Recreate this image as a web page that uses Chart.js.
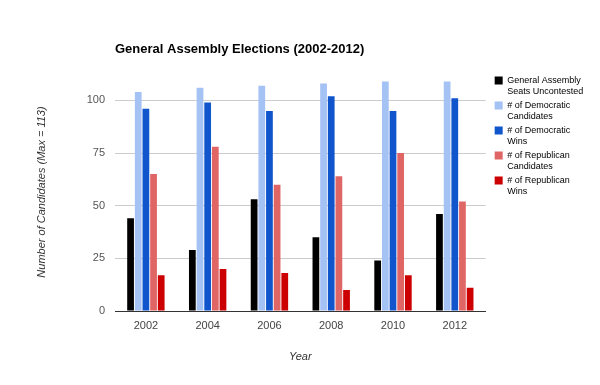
<!DOCTYPE html>
<html>
<head>
<meta charset="utf-8">
<script src="https://cdn.jsdelivr.net/npm/chart.js@4/dist/chart.umd.min.js"></script>
<style>
  html,body{margin:0;padding:0;background:#fff;}
  #wrap{width:600px;height:385px;}
</style>
</head>
<body>
<div id="wrap"><canvas id="chart" width="600" height="385"></canvas></div>
<script>
const years = ["2002","2004","2006","2008","2010","2012"];
const seatsUncontested = [44, 29, 53, 35, 24, 46];
const demCandidates = [104, 106, 107, 108, 109, 109];
const demWins = [96, 99, 95, 102, 95, 101];
const repCandidates = [65, 78, 60, 64, 75, 52];
const repWins = [17, 20, 18, 10, 17, 11];
const yTicks = [0, 25, 50, 75, 100];

const chartTitle = "General Assembly Elections (2002-2012)";

// title sits over the plot's left edge, not centered on the canvas
const leftTitle = {
  id: "leftTitle",
  afterDraw(chart){
    const ctx = chart.ctx;
    ctx.save();
    ctx.font = "bold 13px Arial, 'Liberation Sans', sans-serif";
    ctx.fillStyle = "#000";
    ctx.textBaseline = "middle";
    ctx.fillText(chartTitle, chart.chartArea.left, 49);
    ctx.restore();
  }
};

const ds = (label, data, color) => ({
  label, data, backgroundColor: color, borderWidth: 0,
  barPercentage: 0.88, categoryPercentage: 0.62
});

new Chart(document.getElementById("chart").getContext("2d"), {
  type: "bar",
  data: {
    labels: years,
    datasets: [
      ds("General Assembly\nSeats Uncontested", seatsUncontested, "#000000"),
      ds("# of Democratic\nCandidates", demCandidates, "#a4c2f4"),
      ds("# of Democratic\nWins", demWins, "#1155cc"),
      ds("# of Republican\nCandidates", repCandidates, "#e06666"),
      ds("# of Republican\nWins", repWins, "#cc0000")
    ]
  },
  options: {
    responsive: false,
    animation: false,
    layout: { padding: { top: 73, left: 10, right: 12, bottom: 8 } },
    scales: {
      x: {
        grid: { display: false, drawTicks: false, tickLength: 0 },
        border: { display: true, color: "#333" },
        ticks: { color: "#444", font: { size: 11, family: "Arial" }, padding: 8 },
        title: { display: true, text: "Year", color: "#333",
          font: { size: 11, style: "italic", family: "Arial" }, padding: { top: 18, bottom: 13 } },
        afterFit(scale){ scale.height = 66; }
      },
      y: {
        min: 0, max: 113,
        ticks: { stepSize: 25, color: "#555", font: { size: 11, family: "Arial" }, padding: 10 },
        afterBuildTicks(scale){ scale.ticks = yTicks.map(v => ({ value: v })); },
        grid: { color: c => c.tick && c.tick.value === 0 ? "#333" : "#ccc", drawTicks: false },
        border: { display: false },
        title: { display: true, text: "Number of Candidates (Max = 113)", color: "#333",
          font: { size: 11, style: "italic", family: "Arial" }, padding: { top: 25, bottom: 0 } },
        afterFit(scale){ scale.width = 105; }
      },
      // empty right axis, only keeps a gap between plot and legend
      gap: {
        type: "linear", position: "right", display: true,
        grid: { display: false, drawTicks: false }, border: { display: false },
        ticks: { display: false },
        afterFit(scale){ scale.width = 6; }
      }
    },
    plugins: {
      title: { display: false },
      tooltip: { enabled: false },
      legend: {
        position: "right",
        align: "start",
        labels: {
          boxWidth: 8, boxHeight: 8, padding: 3, color: "#222",
          font: { size: 9, family: "Arial", lineHeight: "11px" },
          generateLabels(chart){
            return chart.data.datasets.map((d, i) => ({
              text: d.label.split("\n"),
              fillStyle: d.backgroundColor,
              strokeStyle: d.backgroundColor,
              lineWidth: 0,
              hidden: false,
              datasetIndex: i
            }));
          }
        }
      }
    }
  },
  plugins: [leftTitle]
});
</script>
</body>
</html>
